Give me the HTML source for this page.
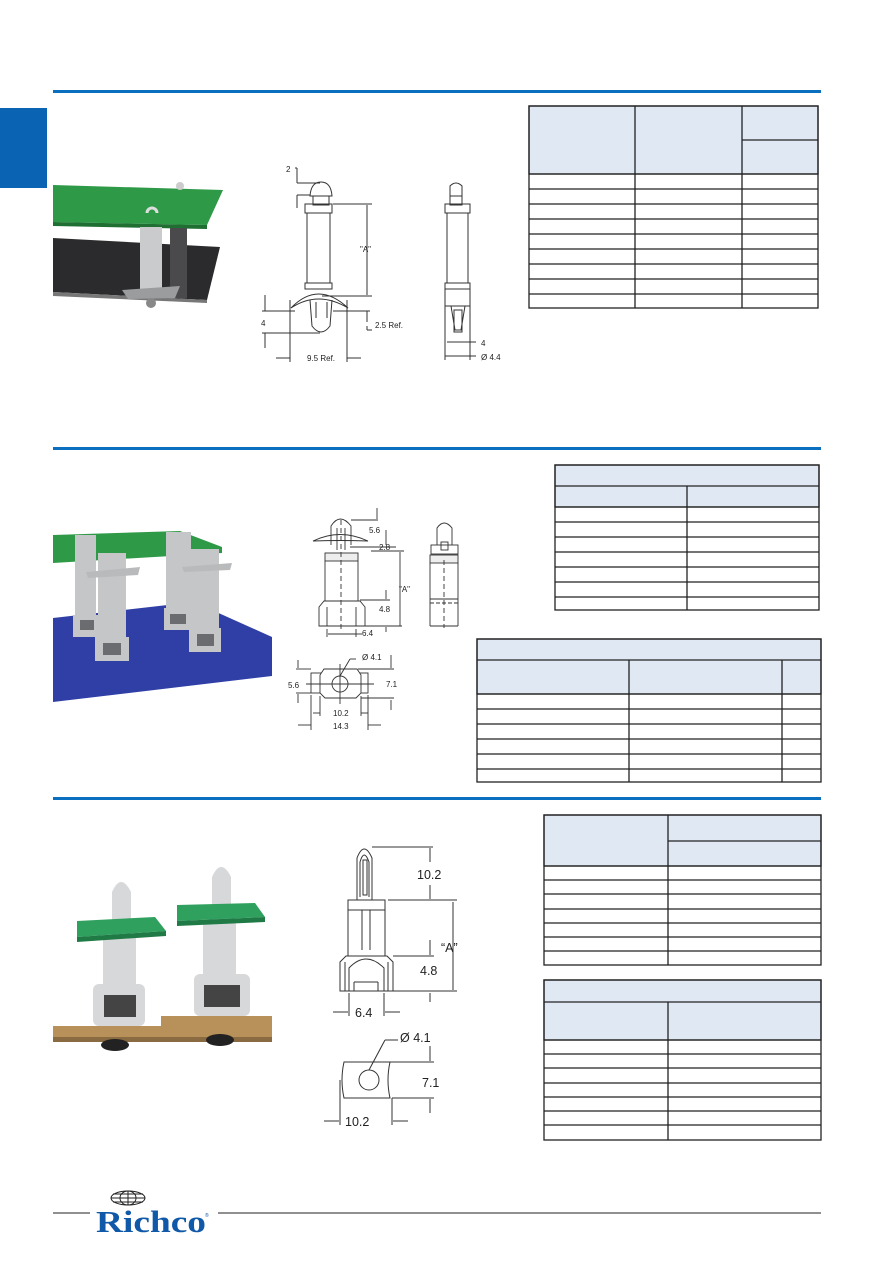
<!DOCTYPE html>
<html><head><meta charset="utf-8"><style>
html,body{margin:0;padding:0;background:#fff;}
svg{display:block;}
text{font-family:"Liberation Sans",Arial,sans-serif;fill:#222;}
</style></head><body>
<svg width="893" height="1263" viewBox="0 0 893 1263" xmlns="http://www.w3.org/2000/svg">
<rect x="0" y="108" width="47" height="80" fill="#0b63b3"/>
<rect x="53" y="90" width="768" height="3" fill="#0b6fc0"/>
<rect x="53" y="447" width="768" height="3" fill="#0b6fc0"/>
<rect x="53" y="797" width="768" height="3" fill="#0b6fc0"/>

<!-- Photo 1 -->
<polygon points="53,238 220,247 207,300 53,292" fill="#2b2b2d"/>
<polygon points="53,292 207,300 207,303 53,296" fill="#777"/>
<polygon points="53,185 223,190 207,225 53,222" fill="#2e9a48"/>
<polygon points="53,222 207,225 207,229 53,226" fill="#1f6f32"/>
<rect x="170" y="228" width="17" height="70" fill="#4a4a4c"/>
<rect x="140" y="227" width="22" height="62" fill="#c9cbcc"/>
<polygon points="122,290 180,286 175,298 128,299" fill="#9a9c9e"/>
<circle cx="151" cy="303" r="5" fill="#888"/>
<path d="M147,213 a5,5 0 0 1 10,0" stroke="#ddd" stroke-width="3" fill="none"/>
<circle cx="180" cy="186" r="4" fill="#ccc"/>

<!-- Photo 2 -->
<polygon points="53,618 194,602 272,637 272,676 53,702" fill="#2f3fa6"/>
<polygon points="53,535 180,531 222,547 222,553 53,563" fill="#2e9a48"/>
<g fill="#c4c6c8">
<rect x="75" y="535" width="21" height="102"/><rect x="73" y="615" width="25" height="22"/>
<rect x="166" y="532" width="25" height="98"/><rect x="164" y="608" width="29" height="22"/>
<rect x="98" y="553" width="28" height="108"/><rect x="95" y="637" width="34" height="24"/>
<rect x="191" y="549" width="28" height="103"/><rect x="189" y="628" width="32" height="24"/>
</g>
<g fill="#6a6c70"><rect x="103" y="643" width="18" height="12"/><rect x="197" y="634" width="17" height="12"/><rect x="80" y="620" width="14" height="10"/><rect x="170" y="614" width="16" height="10"/></g>
<polygon points="86,572 140,567 138,575 88,578" fill="#b8babc"/>
<polygon points="182,567 232,563 230,570 184,572" fill="#b8babc"/>

<!-- Photo 3 -->
<polygon points="53,1026 161,1026 161,1016 272,1016 272,1037 53,1037" fill="#b8905a"/>
<rect x="53" y="1037" width="219" height="5" fill="#8a6a40"/>
<ellipse cx="115" cy="1045" rx="14" ry="6" fill="#222"/><ellipse cx="220" cy="1040" rx="14" ry="6" fill="#222"/>
<g fill="#d6d8da">
<path d="M112,937 L112,892 Q121,872 131,892 L131,937Z"/>
<rect x="103" y="935" width="33" height="52"/><rect x="93" y="984" width="52" height="42" rx="6"/>
<path d="M212,923 L212,877 Q221,857 231,877 L231,923Z"/>
<rect x="203" y="923" width="33" height="52"/><rect x="194" y="974" width="56" height="42" rx="6"/>
</g>
<rect x="104" y="995" width="32" height="22" fill="#444"/><rect x="204" y="985" width="36" height="22" fill="#444"/>
<polygon points="77,921 155,917 166,931 77,937" fill="#2fa05e"/>
<polygon points="77,937 166,931 166,936 77,942" fill="#1f7a45"/>
<polygon points="177,905 255,903 265,917 177,921" fill="#2fa05e"/>
<polygon points="177,921 265,917 265,922 177,926" fill="#1f7a45"/>

<!-- Tables -->
<g stroke="#222" stroke-width="1.3" fill="none">
<rect x="529" y="106" width="289" height="68" fill="#e0e8f4"/>
<rect x="529" y="106" width="289" height="202"/>
<line x1="635" y1="106" x2="635" y2="308"/><line x1="742" y1="106" x2="742" y2="308"/>
<line x1="742" y1="140" x2="818" y2="140"/>
<line x1="529" y1="174" x2="818" y2="174"/><line x1="529" y1="189" x2="818" y2="189"/><line x1="529" y1="204" x2="818" y2="204"/><line x1="529" y1="219" x2="818" y2="219"/><line x1="529" y1="234" x2="818" y2="234"/><line x1="529" y1="249" x2="818" y2="249"/><line x1="529" y1="264" x2="818" y2="264"/><line x1="529" y1="279" x2="818" y2="279"/><line x1="529" y1="294" x2="818" y2="294"/>
<rect x="555" y="465" width="264" height="42" fill="#e0e8f4"/>
<rect x="555" y="465" width="264" height="145"/>
<line x1="555" y1="486" x2="819" y2="486"/><line x1="687" y1="486" x2="687" y2="610"/>
<line x1="555" y1="507" x2="819" y2="507"/><line x1="555" y1="522" x2="819" y2="522"/><line x1="555" y1="537" x2="819" y2="537"/><line x1="555" y1="552" x2="819" y2="552"/><line x1="555" y1="567" x2="819" y2="567"/><line x1="555" y1="582" x2="819" y2="582"/><line x1="555" y1="597" x2="819" y2="597"/>
<rect x="477" y="639" width="344" height="55" fill="#e0e8f4"/>
<rect x="477" y="639" width="344" height="143"/>
<line x1="477" y1="660" x2="821" y2="660"/><line x1="629" y1="660" x2="629" y2="782"/><line x1="782" y1="660" x2="782" y2="782"/>
<line x1="477" y1="694" x2="821" y2="694"/><line x1="477" y1="709" x2="821" y2="709"/><line x1="477" y1="724" x2="821" y2="724"/><line x1="477" y1="739" x2="821" y2="739"/><line x1="477" y1="754" x2="821" y2="754"/><line x1="477" y1="769" x2="821" y2="769"/>
<rect x="544" y="815" width="277" height="51" fill="#e0e8f4"/>
<rect x="544" y="815" width="277" height="150"/>
<line x1="668" y1="815" x2="668" y2="965"/><line x1="668" y1="841" x2="821" y2="841"/>
<line x1="544" y1="866" x2="821" y2="866"/><line x1="544" y1="880" x2="821" y2="880"/><line x1="544" y1="894" x2="821" y2="894"/><line x1="544" y1="909" x2="821" y2="909"/><line x1="544" y1="923" x2="821" y2="923"/><line x1="544" y1="937" x2="821" y2="937"/><line x1="544" y1="951" x2="821" y2="951"/>
<rect x="544" y="980" width="277" height="60" fill="#e0e8f4"/>
<rect x="544" y="980" width="277" height="160"/>
<line x1="544" y1="1002" x2="821" y2="1002"/><line x1="668" y1="1002" x2="668" y2="1140"/>
<line x1="544" y1="1040" x2="821" y2="1040"/><line x1="544" y1="1054" x2="821" y2="1054"/><line x1="544" y1="1068" x2="821" y2="1068"/><line x1="544" y1="1083" x2="821" y2="1083"/><line x1="544" y1="1097" x2="821" y2="1097"/><line x1="544" y1="1111" x2="821" y2="1111"/><line x1="544" y1="1125" x2="821" y2="1125"/>
</g>

<!-- Drawing 1 -->
<g stroke="#333" stroke-width="1" fill="none">
<path d="M310,196 Q311,182 321,182 Q331,182 332,196 Z"/>
<rect x="313" y="196" width="16" height="9"/>
<rect x="305" y="204" width="27" height="9"/>
<line x1="307" y1="213" x2="307" y2="283"/><line x1="330" y1="213" x2="330" y2="283"/>
<rect x="305" y="283" width="27" height="6"/>
<path d="M291,308 Q318,280 348,308 Q318,290 291,308Z"/>
<path d="M310,300 L312,326 Q321,338 330,326 L332,300"/>
<line x1="316" y1="302" x2="316" y2="318"/><line x1="327" y1="302" x2="327" y2="318"/>
<line x1="333" y1="204" x2="372" y2="204"/><line x1="322" y1="296" x2="372" y2="296"/>
<line x1="367" y1="205" x2="367" y2="295"/>
<line x1="295" y1="168" x2="297" y2="168"/><line x1="297" y1="168" x2="297" y2="183"/><line x1="297" y1="195" x2="297" y2="208"/>
<line x1="297" y1="183" x2="320" y2="183"/><line x1="297" y1="195" x2="310" y2="195"/>
<line x1="262" y1="311" x2="295" y2="311"/><line x1="262" y1="333" x2="320" y2="333"/>
<line x1="265" y1="295" x2="265" y2="311"/><line x1="265" y1="333" x2="265" y2="348"/>
<line x1="333" y1="311" x2="370" y2="311"/><line x1="367" y1="311" x2="367" y2="322"/><line x1="367" y1="326" x2="367" y2="330"/><line x1="367" y1="330" x2="372" y2="330"/>
<line x1="290" y1="300" x2="290" y2="362"/><line x1="347" y1="300" x2="347" y2="362"/>
<line x1="276" y1="358" x2="290" y2="358"/><line x1="347" y1="358" x2="361" y2="358"/>
<path d="M450,196 L450,186 Q456,180 462,186 L462,196"/>
<rect x="450" y="196" width="12" height="9"/>
<rect x="445" y="204" width="25" height="9"/>
<line x1="447" y1="213" x2="447" y2="283"/><line x1="468" y1="213" x2="468" y2="283"/>
<rect x="445" y="283" width="25" height="6"/>
<line x1="445" y1="289" x2="445" y2="345"/><line x1="470" y1="289" x2="470" y2="345"/>
<line x1="445" y1="306" x2="470" y2="306"/>
<path d="M451,306 L455,330 L461,330 L465,306"/><rect x="454" y="310" width="8" height="22"/>
<line x1="447" y1="342" x2="476" y2="342"/><line x1="445" y1="356" x2="476" y2="356"/>
<line x1="445" y1="345" x2="445" y2="360"/><line x1="470" y1="340" x2="470" y2="360"/>
</g>
<g font-size="8">
<text x="286" y="172">2</text><text x="360" y="252">"A"</text>
<text x="261" y="326">4</text><text x="375" y="328">2.5 Ref.</text>
<text x="307" y="361">9.5 Ref.</text>
<text x="481" y="346">4</text><text x="481" y="360">Ø 4.4</text>
</g>

<!-- Drawing 2 -->
<g stroke="#333" stroke-width="0.9" fill="none">
<path d="M331,545 L331,526 Q340,512 351,526 L351,545"/>
<line x1="337" y1="528" x2="337" y2="550"/><line x1="345" y1="528" x2="345" y2="550"/>
<path d="M313,541 Q340,528 368,541 Q340,540 313,541Z" />
<rect x="325" y="553" width="33" height="8" fill="#eee"/>
<line x1="325" y1="561" x2="325" y2="601"/><line x1="358" y1="561" x2="358" y2="601"/>
<line x1="341" y1="520" x2="341" y2="632" stroke-dasharray="5,3"/>
<path d="M319,607 L324,601 L360,601 L365,607 L365,626 L319,626Z"/>
<line x1="327" y1="607" x2="327" y2="626"/><line x1="356" y1="607" x2="356" y2="626"/>
<line x1="351" y1="520" x2="378" y2="520"/><line x1="377" y1="508" x2="377" y2="519"/>
<line x1="350" y1="547" x2="396" y2="547"/><line x1="371" y1="551" x2="404" y2="551"/>
<line x1="386" y1="530" x2="386" y2="545"/>
<line x1="400" y1="552" x2="400" y2="626"/><line x1="355" y1="626" x2="402" y2="626"/>
<line x1="360" y1="600" x2="390" y2="600"/><line x1="386" y1="590" x2="386" y2="599"/><line x1="386" y1="627" x2="386" y2="632"/>
<line x1="327" y1="629" x2="327" y2="637"/><line x1="356" y1="629" x2="356" y2="637"/>
<line x1="328" y1="634" x2="356" y2="634"/><line x1="356" y1="634" x2="362" y2="634"/>
<path d="M437,545 L437,528 Q444,518 452,528 L452,545"/>
<rect x="431" y="545" width="27" height="9"/><rect x="441" y="542" width="7" height="8"/>
<rect x="430" y="555" width="28" height="8" fill="#eee"/>
<line x1="430" y1="563" x2="430" y2="626"/><line x1="458" y1="563" x2="458" y2="626"/>
<line x1="430" y1="599" x2="458" y2="599"/><line x1="430" y1="603" x2="458" y2="603" stroke-dasharray="4,2"/>
<line x1="430" y1="626" x2="458" y2="626"/><line x1="444" y1="560" x2="444" y2="628" stroke-dasharray="5,3"/>
<rect x="311" y="673" width="57" height="20"/>
<path d="M324,669 L357,669 L361,675 L361,693 L356,698 L325,698 L320,693 L320,675Z" fill="#fff"/>
<circle cx="340" cy="684" r="8"/>
<line x1="306" y1="684" x2="374" y2="684"/><line x1="340" y1="664" x2="340" y2="704"/>
<line x1="340" y1="676" x2="350" y2="659"/><line x1="350" y1="659" x2="356" y2="659"/>
<line x1="358" y1="669" x2="394" y2="669"/><line x1="361" y1="698" x2="394" y2="698"/>
<line x1="391" y1="655" x2="391" y2="668"/><line x1="391" y1="700" x2="391" y2="710"/>
<line x1="296" y1="669" x2="311" y2="669"/><line x1="296" y1="693" x2="311" y2="693"/>
<line x1="298" y1="660" x2="298" y2="668"/><line x1="298" y1="694" x2="298" y2="703"/>
<line x1="320" y1="696" x2="320" y2="716"/><line x1="361" y1="696" x2="361" y2="716"/>
<line x1="311" y1="695" x2="311" y2="730"/><line x1="368" y1="695" x2="368" y2="730"/>
<line x1="313" y1="713" x2="320" y2="713"/><line x1="361" y1="713" x2="368" y2="713"/>
<line x1="298" y1="725" x2="311" y2="725"/><line x1="368" y1="725" x2="381" y2="725"/>
</g>
<g font-size="8">
<text x="369" y="533">5.6</text><text x="379" y="550">2.8</text>
<text x="399" y="592">"A"</text><text x="379" y="612">4.8</text><text x="362" y="636">6.4</text>
<text x="362" y="660">Ø 4.1</text><text x="288" y="688">5.6</text><text x="386" y="687">7.1</text>
<text x="333" y="716">10.2</text><text x="333" y="729">14.3</text>
</g>

<!-- Drawing 3 -->
<g stroke="#333" stroke-width="1" fill="none">
<path d="M357,900 L357,858 Q364,840 372,858 L372,900 Z"/>
<path d="M360,897 L360,862 Q364,848 369,862 L369,897"/>
<rect x="363" y="860" width="4" height="35"/>
<rect x="348" y="900" width="37" height="10"/>
<line x1="348" y1="910" x2="348" y2="956"/><line x1="385" y1="910" x2="385" y2="956"/>
<line x1="362" y1="910" x2="362" y2="950"/><line x1="370" y1="910" x2="370" y2="950"/>
<path d="M340,962 L346,956 L387,956 L393,962 L393,991 L340,991Z"/>
<path d="M349,991 L349,968 Q366,950 384,968 L384,991"/>
<line x1="345" y1="962" x2="345" y2="991"/><line x1="388" y1="962" x2="388" y2="991"/>
<line x1="354" y1="982" x2="378" y2="982"/><line x1="354" y1="982" x2="354" y2="991"/><line x1="378" y1="982" x2="378" y2="991"/>
<line x1="372" y1="847" x2="433" y2="847"/><line x1="388" y1="900" x2="457" y2="900"/>
<line x1="430" y1="848" x2="430" y2="862"/><line x1="430" y1="885" x2="430" y2="899"/>
<line x1="453" y1="902" x2="453" y2="990"/>
<line x1="393" y1="956" x2="434" y2="956"/><line x1="393" y1="991" x2="457" y2="991"/>
<line x1="430" y1="940" x2="430" y2="955"/><line x1="430" y1="993" x2="430" y2="1002"/>
<line x1="349" y1="993" x2="349" y2="1016"/><line x1="384" y1="993" x2="384" y2="1016"/>
<line x1="333" y1="1012" x2="348" y2="1012"/><line x1="385" y1="1012" x2="400" y2="1012"/>
<path d="M344,1062 L390,1062 Q386,1080 390,1098 L344,1098 Q340,1080 344,1062Z"/>
<circle cx="369" cy="1080" r="10"/>
<line x1="369" y1="1070" x2="385" y2="1040"/><line x1="385" y1="1040" x2="398" y2="1040"/>
<line x1="390" y1="1062" x2="434" y2="1062"/><line x1="392" y1="1098" x2="434" y2="1098"/>
<line x1="430" y1="1046" x2="430" y2="1061"/><line x1="430" y1="1099" x2="430" y2="1113"/>
<line x1="340" y1="1080" x2="340" y2="1125"/><line x1="392" y1="1098" x2="392" y2="1125"/>
<line x1="324" y1="1121" x2="339" y2="1121"/><line x1="393" y1="1121" x2="408" y2="1121"/>
</g>
<g font-size="12.5">
<text x="417" y="879">10.2</text><text x="441" y="952">“A”</text>
<text x="420" y="975">4.8</text><text x="355" y="1017">6.4</text>
<text x="400" y="1042">Ø 4.1</text><text x="422" y="1087">7.1</text><text x="345" y="1126">10.2</text>
</g>

<!-- Footer -->
<line x1="53" y1="1213" x2="90" y2="1213" stroke="#222" stroke-width="1"/>
<line x1="218" y1="1213" x2="821" y2="1213" stroke="#222" stroke-width="1"/>
<g stroke="#222" stroke-width="1" fill="none">
<ellipse cx="128" cy="1198" rx="17" ry="7"/>
<ellipse cx="128" cy="1198" rx="8" ry="7"/>
<line x1="111" y1="1198" x2="145" y2="1198"/>
<line x1="113" y1="1194" x2="143" y2="1194"/><line x1="113" y1="1202" x2="143" y2="1202"/>
<line x1="128" y1="1191" x2="128" y2="1205"/>
</g>
<text x="96" y="1232" font-size="31" style="fill:#1059a8;font-family:'Liberation Serif',serif;font-weight:bold" textLength="110" lengthAdjust="spacingAndGlyphs">Richco</text>
<text x="205" y="1217" font-size="5" style="fill:#1059a8">®</text>
</svg>
</body></html>
